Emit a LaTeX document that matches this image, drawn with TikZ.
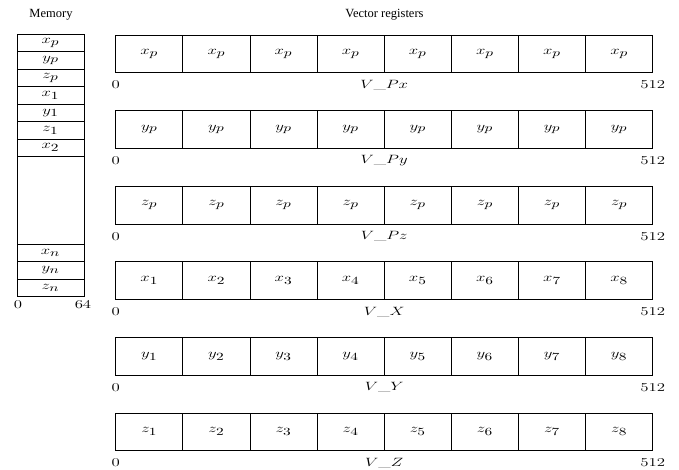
\documentclass[tikz,border=0pt]{standalone}
\usepackage{graphicx}
\usepackage{fontspec}
\newfontfamily\titlefont{Liberation Serif}
\DeclareMathSizes{12}{12}{10.5}{8}
\newcommand{\wm}[1]{\scalebox{1.4}[1]{$#1$}}
\begin{document}
\begin{tikzpicture}[x=1pt,y=-1pt,
  cell/.style={draw,line width=0.7pt,minimum width=67.125pt,minimum height=37.7pt,inner sep=0pt,font=\fontsize{12}{14}\selectfont},
  memrow/.style={draw,line width=0.7pt,minimum width=67pt,minimum height=17.47pt,inner sep=0pt,font=\fontsize{12}{14}\selectfont},
  memgap/.style={draw,line width=0.7pt,minimum width=67pt,minimum height=87.35pt,inner sep=0pt},
  lbl/.style={inner sep=0pt,font=\fontsize{12}{14}\selectfont},
  ttl/.style={inner sep=0pt,font=\titlefont\fontsize{12.5}{14}\selectfont}]
\useasboundingbox (0,0) rectangle (679,469);
% titles
\node[ttl] (tmem) at (51,15) {Memory};
\node[ttl] (treg) at (384.5,15) {Vector registers};
% memory column
\def\mx{50.5}
\foreach \lab [count=\i from 0] in {x_p,y_p,z_p,x_1,y_1,z_1,x_2}{
  \node[memrow] (m\i) at (\mx,{34.3+17.47*\i+8.735}) {\wm{\lab}};
}
\node[memgap] (mgap) at (\mx,{34.3+17.47*7+43.675}) {};
\foreach \lab [count=\i from 12] in {x_n,y_n,z_n}{
  \node[memrow] (m\i) at (\mx,{34.3+17.47*\i+8.735}) {\wm{\lab}};
}
\node[lbl] (m0lbl) at (18,305) {\wm{0}};
\node[lbl] (m64lbl) at (83,305) {\wm{64}};
% vector registers
\foreach \r/\nm/\labs in {
  0/{V\_Px}/{x_p,x_p,x_p,x_p,x_p,x_p,x_p,x_p},
  1/{V\_Py}/{y_p,y_p,y_p,y_p,y_p,y_p,y_p,y_p},
  2/{V\_Pz}/{z_p,z_p,z_p,z_p,z_p,z_p,z_p,z_p},
  3/{V\_X}/{x_1,x_2,x_3,x_4,x_5,x_6,x_7,x_8},
  4/{V\_Y}/{y_1,y_2,y_3,y_4,y_5,y_6,y_7,y_8},
  5/{V\_Z}/{z_1,z_2,z_3,z_4,z_5,z_6,z_7,z_8}}{
  \pgfmathsetmacro{\ty}{35+75.6*\r}
  \foreach \lab [count=\c from 0] in \labs {
    \node[cell] (r\r c\c) at ({115.7+67.125*\c+33.5625},{\ty+18.85}) {\wm{\lab}};
  }
  \node[lbl] (r\r zero) at (115.7,{\ty+50}) {\wm{0}};
  \node[lbl] (r\r end) at (652.7,{\ty+50}) {\wm{512}};
  \node[lbl] (r\r name) at (384.2,{\ty+50}) {\wm{\nm}};
}
\end{tikzpicture}
\end{document}
